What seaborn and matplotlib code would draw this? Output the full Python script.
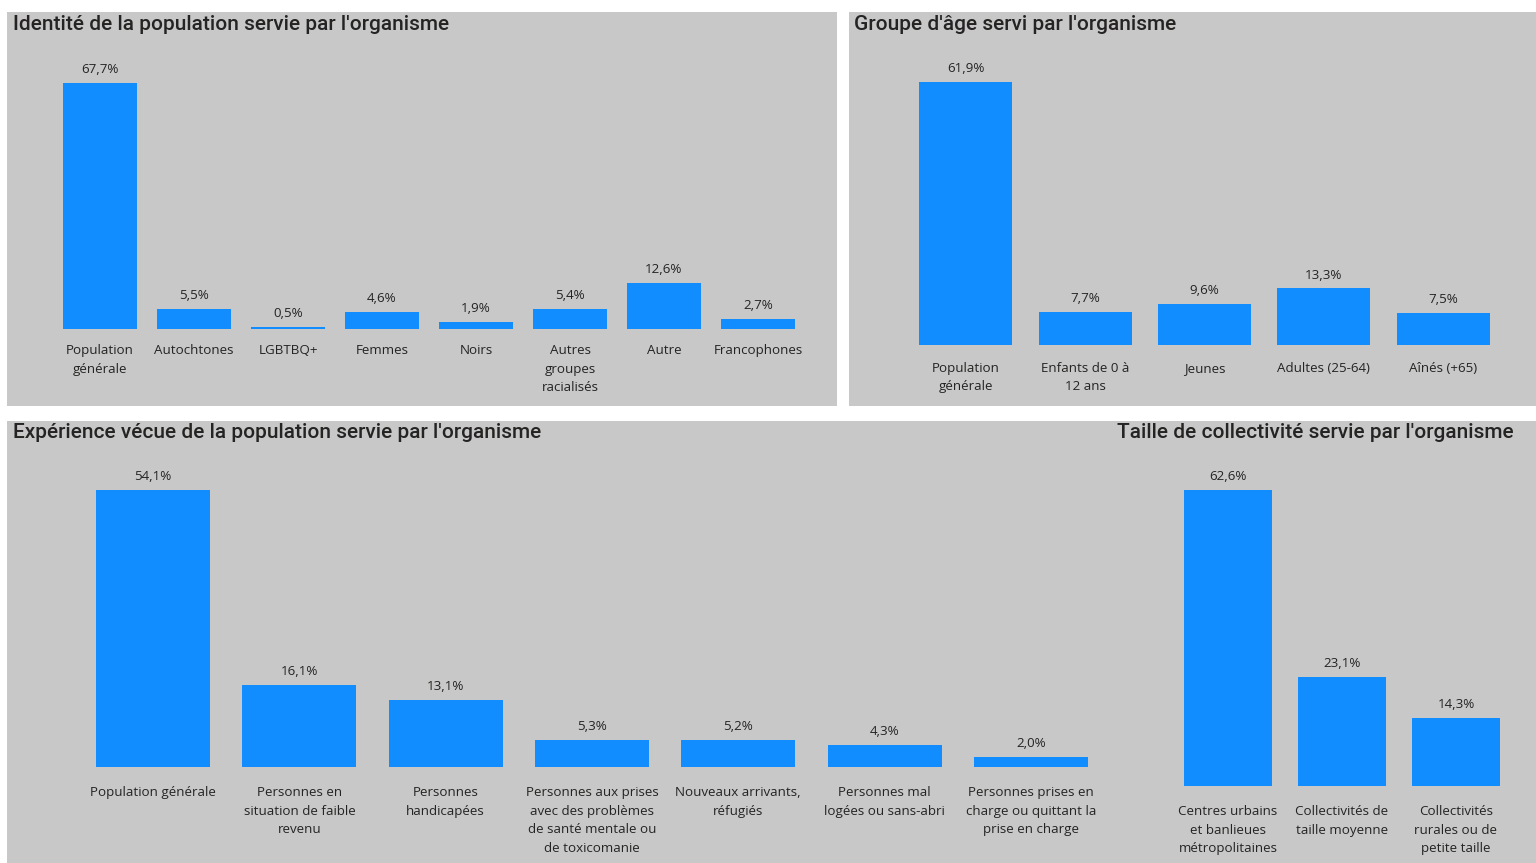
import matplotlib
matplotlib.use("Agg")
import matplotlib.pyplot as plt
import seaborn as sns
from matplotlib.patches import Rectangle

# --- data -------------------------------------------------------------
identite_cats = ["Population\ngénérale", "Autochtones", "LGBTBQ+", "Femmes", "Noirs",
                 "Autres\ngroupes\nracialisés", "Autre", "Francophones"]
identite_vals = [67.7, 5.5, 0.5, 4.6, 1.9, 5.4, 12.6, 2.7]

age_cats = ["Population\ngénérale", "Enfants de 0 à\n12 ans", "Jeunes",
            "Adultes (25-64)", "Aînés (+65)"]
age_vals = [61.9, 7.7, 9.6, 13.3, 7.5]

experience_cats = ["Population générale",
                   "Personnes en\nsituation de faible\nrevenu",
                   "Personnes\nhandicapées",
                   "Personnes aux prises\navec des problèmes\nde santé mentale ou\nde toxicomanie",
                   "Nouveaux arrivants,\nréfugiés",
                   "Personnes mal\nlogées ou sans-abri",
                   "Personnes prises en\ncharge ou quittant la\nprise en charge"]
experience_vals = [54.1, 16.1, 13.1, 5.3, 5.2, 4.3, 2.0]

taille_cats = ["Centres urbains\net banlieues\nmétropolitaines",
               "Collectivités de\ntaille moyenne",
               "Collectivités\nrurales ou de\npetite taille"]
taille_vals = [62.6, 23.1, 14.3]

# --- style ------------------------------------------------------------
W, H = 1536, 863
BAR = "#118DFF"
PANEL = "#c8c8c8"
TXT = "#252423"

sns.set_theme(style="white")
plt.rcParams["font.family"] = ["Open Sans", "DejaVu Sans"]

fig = plt.figure(figsize=(W / 100, H / 100), dpi=100)
fig.patch.set_facecolor("white")


def px_rect(x0, y0, x1, y1):
    """pixel box (top-left origin) -> figure fraction [l, b, w, h]"""
    return [x0 / W, 1 - y1 / H, (x1 - x0) / W, (y1 - y0) / H]


# gray panels
for x0, y0, x1, y1 in [(7, 12, 837, 406), (849, 12, 1536, 406), (7, 421, 1536, 863)]:
    l, b, w, h = px_rect(x0, y0, x1, y1)
    fig.add_artist(Rectangle((l, b), w, h, transform=fig.transFigure,
                             facecolor=PANEL, edgecolor="none", zorder=0))


def fr_pct(v):
    return f"{v:.1f}".replace(".", ",") + "%"


def draw(box, cats, vals, pad):
    ax = fig.add_axes(px_rect(*box))
    ax.patch.set_alpha(0)
    sns.barplot(x=cats, y=vals, color=BAR, saturation=1, width=0.78,
                linewidth=0, ax=ax)
    ax.set_ylim(0, max(vals))
    ax.set_xlim(-0.5, len(cats) - 0.5)
    ax.bar_label(ax.containers[0], labels=[fr_pct(v) for v in vals],
                 padding=5, fontsize=9.6, color=TXT, clip_on=False)
    ax.set_yticks([])
    ax.set_ylabel("")
    ax.tick_params(axis="x", length=0, pad=pad, labelsize=9.6, labelcolor=TXT)
    for lbl in ax.get_xticklabels():
        lbl.set_linespacing(1.55)
    sns.despine(ax=ax, left=True, bottom=True)
    return ax


draw((53, 83, 805, 329), identite_cats, identite_vals, 11)
draw((906, 82, 1503, 345), age_cats, age_vals, 12)
draw((80, 490, 1104, 767), experience_cats, experience_vals, 14)
draw((1171, 490, 1513, 786), taille_cats, taille_vals, 14)

# panel titles
tkw = dict(fontsize=15, color=TXT, va="center", fontweight="medium",
           family=["Roboto", "DejaVu Sans"])
fig.text(13 / W, 1 - 24 / H, "Identité de la population servie par l'organisme", ha="left", **tkw)
fig.text(854 / W, 1 - 24 / H, "Groupe d'âge servi par l'organisme", ha="left", **tkw)
fig.text(13 / W, 1 - 433 / H, "Expérience vécue de la population servie par l'organisme", ha="left", **tkw)
fig.text(1514 / W, 1 - 433 / H, "Taille de collectivité servie par l'organisme", ha="right", **tkw)

fig.savefig("out.png", dpi=100)
